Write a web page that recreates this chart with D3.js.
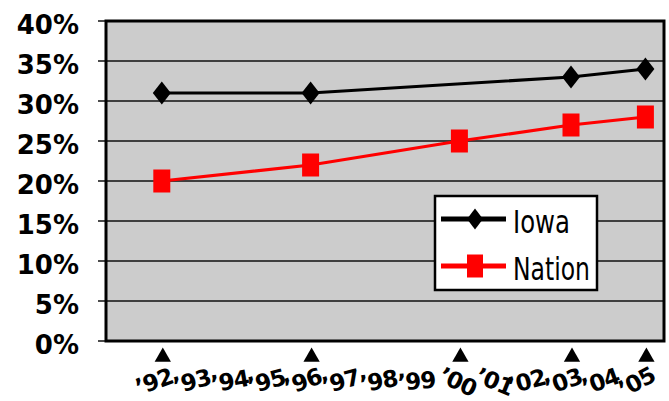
<!DOCTYPE html>
<html><head><meta charset="utf-8">
<script src="https://cdn.jsdelivr.net/npm/d3@7"></script>
<style>body{margin:0;background:#fff}svg{display:block}</style>
</head><body>
<svg id="c" width="669" height="401"></svg>
<script>
// ---- data ----
const yearLabels = [1992,1993,1994,1995,1996,1997,1998,1999,2000,2001,2002,2003,2004,2005];
const markYears = [1992,1996,2000,2003,2005];
const iowaYears = [1992,1996,2003,2005];
const iowaValues = [31,31,33,34];
const nationYears = [1992,1996,2000,2003,2005];
const nationValues = [20,22,25,27,28];
const yTicks = [0,5,10,15,20,25,30,35,40];
const labelAngles = [-20,-15,-10,-15,-20,-15,-10,-5,25,22,-15,-20,-20,-28];

const svg = d3.select("#c");
const L=106,T=21,R=664,B=341;
const x = d3.scaleLinear().domain([1990.5,2005.5]).range([L,R]);
const y = d3.scaleLinear().domain([0,40]).range([B,T]);

svg.append("rect").attr("x",L).attr("y",T).attr("width",R-L).attr("height",B-T).attr("fill","#cccccc");

// grid + ticks
svg.append("g").selectAll("line.g").data(yTicks).join("line")
  .attr("x1",L-8).attr("x2",R).attr("y1",d=>y(d)).attr("y2",d=>y(d))
  .attr("stroke","#111").attr("stroke-width",1.3);

svg.append("g").selectAll("text").data(yTicks).join("text")
  .attr("x",79).attr("y",d=>y(d)+12.5).attr("text-anchor","end")
  .attr("font-family","DejaVu Sans").attr("font-weight","bold").attr("font-size",26)
  .text(d=>d+"%");

// frame
svg.append("rect").attr("x",L).attr("y",T).attr("width",R-L).attr("height",B-T)
  .attr("fill","none").attr("stroke","#000").attr("stroke-width",3);

// triangles
svg.append("g").selectAll("path").data(markYears).join("path")
  .attr("d",d3.symbol(d3.symbolTriangle,115))
  .attr("transform",d=>`translate(${x(d)+1},357)`).attr("fill","#000");

// year labels
svg.append("g").selectAll("text").data(yearLabels).join("text")
  .attr("transform",(d,i)=>`translate(${x(d)-5},389) rotate(${labelAngles[i]})`)
  .attr("text-anchor","middle")
  .attr("font-family","DejaVu Sans").attr("font-weight","bold").attr("font-size",23)
  .attr("letter-spacing",-1)
  .text(d=>"\u2019"+String(d).slice(2));

// series
const line = d3.line().x(d=>x(d[0])).y(d=>y(d[1]));
const iowa = iowaYears.map((d,i)=>[d,iowaValues[i]]);
const nation = nationYears.map((d,i)=>[d,nationValues[i]]);
const diamond = (w,h)=>`M0,${-h/2}L${w/2},0L0,${h/2}L${-w/2},0Z`;
const square = (w,h)=>`M${-w/2},${-h/2}h${w}v${h}h${-w}Z`;

svg.append("path").datum(iowa).attr("d",line).attr("fill","none").attr("stroke","#000").attr("stroke-width",3.2);
svg.append("g").selectAll("path").data(iowa).join("path")
  .attr("d",diamond(18,23)).attr("transform",d=>`translate(${x(d[0])},${y(d[1])})`).attr("fill","#000");

svg.append("path").datum(nation).attr("d",line).attr("fill","none").attr("stroke","#ff0000").attr("stroke-width",3.2);
svg.append("g").selectAll("path").data(nation).join("path")
  .attr("d",square(17,23)).attr("transform",d=>`translate(${x(d[0])},${y(d[1])})`).attr("fill","#ff0000");

// legend
const lg = svg.append("g");
lg.append("rect").attr("x",435).attr("y",196).attr("width",162).attr("height",94)
  .attr("fill","#fff").attr("stroke","#000").attr("stroke-width",2.5);
lg.append("line").attr("x1",441).attr("x2",506).attr("y1",219).attr("y2",219).attr("stroke","#000").attr("stroke-width",5);
lg.append("path").attr("d",diamond(16,21)).attr("transform","translate(475,219)").attr("fill","#000");
lg.append("line").attr("x1",441).attr("x2",506).attr("y1",266).attr("y2",266).attr("stroke","#ff0000").attr("stroke-width",5);
lg.append("path").attr("d",square(16,23)).attr("transform","translate(475,266)").attr("fill","#ff0000");
lg.append("text").attr("x",513).attr("y",233).attr("font-family","DejaVu Sans").attr("font-size",32)
  .attr("textLength",57).attr("lengthAdjust","spacingAndGlyphs").text("Iowa");
lg.append("text").attr("x",513).attr("y",280).attr("font-family","DejaVu Sans").attr("font-size",32)
  .attr("textLength",77).attr("lengthAdjust","spacingAndGlyphs").text("Nation");
</script>
</body></html>
